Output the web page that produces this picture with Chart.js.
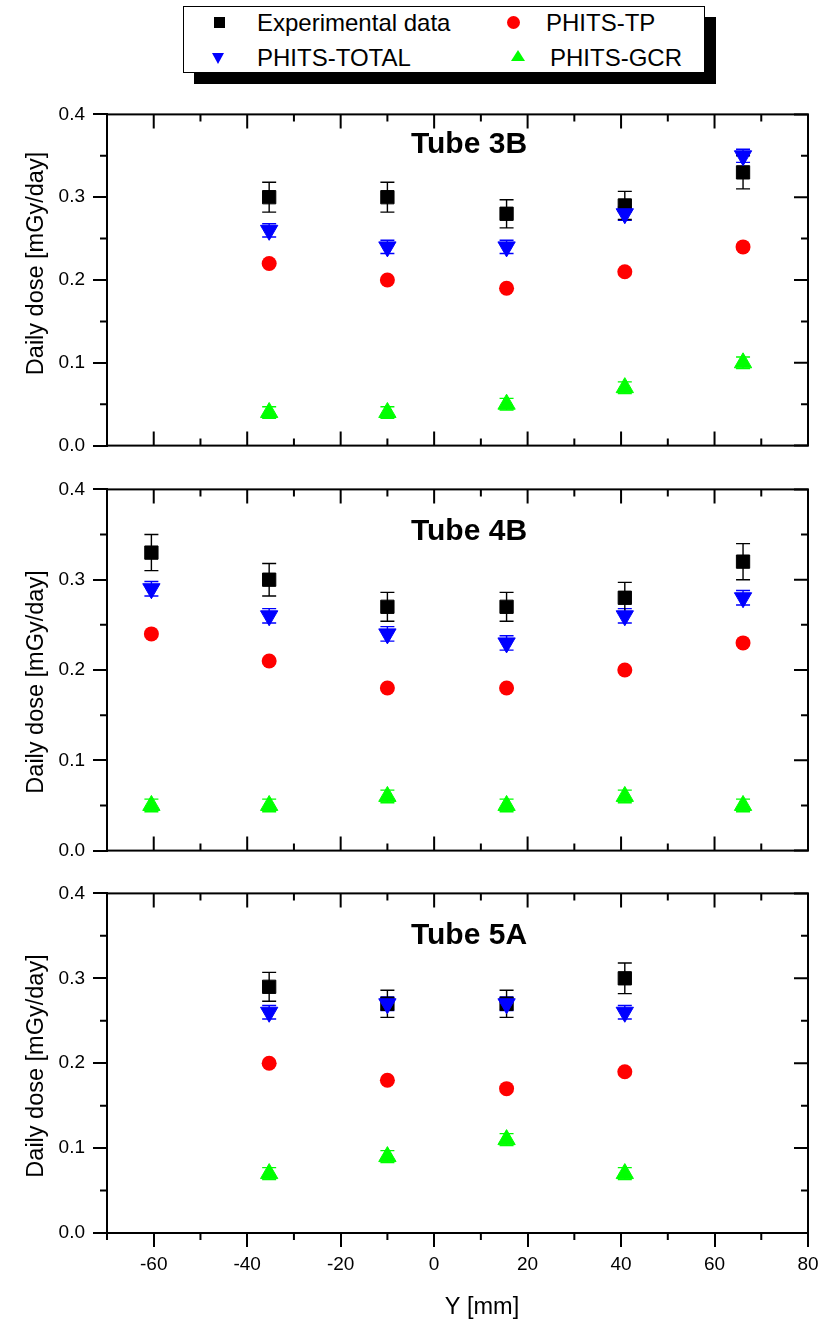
<!DOCTYPE html>
<html>
<head>
<meta charset="utf-8">
<title>Daily dose per tube</title>
<script src="https://cdn.jsdelivr.net/npm/chart.js@4.4.1/dist/chart.umd.min.js"></script>
<style>
  html, body { margin:0; padding:0; background:#fff; }
  body { width:832px; height:1322px; position:relative; overflow:hidden;
         font-family:"Liberation Sans", Arial, sans-serif; color:#000; }
  .panel { position:absolute; left:0; width:832px; }
  #legend { position:absolute; left:183px; top:6px; width:520px; height:65px;
            border:1px solid #000; background:#fff; box-shadow:11px 11px 0 #000; }
  .lt { position:absolute; font-size:24px; line-height:24px; white-space:nowrap; }
  .mk { position:absolute; }
</style>
</head>
<body>
<div id="legend"></div>
<div class="panel" style="top:95px;height:370px"><canvas id="c1"></canvas></div>
<div class="panel" style="top:470px;height:400px"><canvas id="c2"></canvas></div>
<div class="panel" style="top:874px;height:448px"><canvas id="c3"></canvas></div>
<script>
/* ---------- data (Y position in mm, dose in mGy/day) ---------- */
const X_3B = [-35.3, -10.0, 15.5, 40.8, 66.1];
const X_4B = [-60.5, -35.3, -10.0, 15.5, 40.8, 66.1];
const X_5A = [-35.3, -10.0, 15.5, 40.8];

const EXP_3B     = [0.30, 0.30, 0.28, 0.29, 0.33];
const EXP_ERR_3B = [0.018, 0.018, 0.017, 0.017, 0.020];
const TOT_3B     = [0.26, 0.24, 0.24, 0.28, 0.35];
const TOT_ERR_3B = [0.008, 0.008, 0.008, 0.008, 0.008];
const TP_3B      = [0.22, 0.20, 0.19, 0.21, 0.24];
const GCR_3B     = [0.04, 0.04, 0.05, 0.07, 0.10];
const GCR_ERR_3B = [0.007, 0.007, 0.007, 0.007, 0.007];

const EXP_4B     = [0.33, 0.30, 0.27, 0.27, 0.28, 0.32];
const EXP_ERR_4B = [0.020, 0.018, 0.016, 0.016, 0.017, 0.020];
const TOT_4B     = [0.29, 0.26, 0.24, 0.23, 0.26, 0.28];
const TOT_ERR_4B = [0.008, 0.008, 0.008, 0.008, 0.008, 0.008];
const TP_4B      = [0.24, 0.21, 0.18, 0.18, 0.20, 0.23];
const GCR_4B     = [0.05, 0.05, 0.06, 0.05, 0.06, 0.05];
const GCR_ERR_4B = [0.007, 0.007, 0.007, 0.007, 0.007, 0.007];

const EXP_5A     = [0.29, 0.27, 0.27, 0.30];
const EXP_ERR_5A = [0.017, 0.016, 0.016, 0.018];
const TOT_5A     = [0.26, 0.27, 0.27, 0.26];
const TOT_ERR_5A = [0.008, 0.008, 0.008, 0.008];
const TP_5A      = [0.20, 0.18, 0.17, 0.19];
const GCR_5A     = [0.07, 0.09, 0.11, 0.07];
const GCR_ERR_5A = [0.007, 0.007, 0.007, 0.007];

const SERIES = ["Experimental data", "PHITS-TP", "PHITS-TOTAL", "PHITS-GCR"];
const X_RANGE = [-70, 80];
const X_TICKS = [-60, -40, -20, 0, 20, 40, 60, 80];
const Y_RANGE = [0, 0.4];
const Y_TICKS = [0.0, 0.1, 0.2, 0.3, 0.4];

const FONT = '"Liberation Sans", Arial, sans-serif';
const COL = { exp:"#000000", tp:"#ff0000", tot:"#0000ff", gcr:"#00ff00" };

/* ---------- legend (html) ---------- */
const leg = document.getElementById("legend");
leg.innerHTML =
  `<div class="mk" style="left:30px;top:10px;width:11px;height:11px;background:${COL.exp}"></div>` +
  `<div class="lt" style="left:73px;top:4px">${SERIES[0]}</div>` +
  `<div class="mk" style="left:323px;top:9px;width:13px;height:13px;border-radius:50%;background:${COL.tp}"></div>` +
  `<div class="lt" style="left:362px;top:4px">${SERIES[1]}</div>` +
  `<div class="mk" style="left:28px;top:46px;width:0;height:0;border-left:6px solid transparent;border-right:6px solid transparent;border-top:11px solid ${COL.tot}"></div>` +
  `<div class="lt" style="left:73px;top:39px">${SERIES[2]}</div>` +
  `<div class="mk" style="left:327px;top:43px;width:0;height:0;border-left:7px solid transparent;border-right:7px solid transparent;border-bottom:11px solid ${COL.gcr}"></div>` +
  `<div class="lt" style="left:366px;top:39px">${SERIES[3]}</div>`;

/* ---------- frame / ticks / error bars / titles ---------- */
const frame = {
  id: "frame",
  beforeDatasetsDraw(chart){
    const { ctx } = chart, xs = chart.scales.x, ys = chart.scales.y;
    ctx.save();
    chart.data.datasets.forEach(ds => {
      if (!ds.err) return;
      ctx.strokeStyle = ds.errColor; ctx.lineWidth = 1.4;
      ds.data.forEach((p, i) => {
        const e = ds.err[i];
        const px = xs.getPixelForValue(p.x);
        const yt = ys.getPixelForValue(p.y + e), yb = ys.getPixelForValue(p.y - e);
        ctx.beginPath();
        ctx.moveTo(px, yt); ctx.lineTo(px, yb);
        ctx.moveTo(px - 7, yt); ctx.lineTo(px + 7, yt);
        ctx.moveTo(px - 7, yb); ctx.lineTo(px + 7, yb);
        ctx.stroke();
      });
    });
    ctx.restore();
  },
  afterDraw(chart, args, o){
    const { ctx, chartArea:a } = chart, xs = chart.scales.x, ys = chart.scales.y;
    ctx.save();
    ctx.strokeStyle = "#000"; ctx.lineWidth = 2;
    ctx.strokeRect(a.left, a.top, a.right - a.left, a.bottom - a.top);
    ctx.beginPath();
    // x ticks every 10 (major every 20)
    for (let k = -7; k <= 8; k++){
      const px = xs.getPixelForValue(k * 10);
      const len = (k % 2 === 0) ? 14 : 7;
      ctx.moveTo(px, a.top); ctx.lineTo(px, a.top + len);
      if (o.bottomOut){ if (k % 2 !== 0){ ctx.moveTo(px, a.bottom); ctx.lineTo(px, a.bottom + 7); } }
      else { ctx.moveTo(px, a.bottom); ctx.lineTo(px, a.bottom - len); }
    }
    // y ticks every 0.05 (major every 0.1)
    for (let k = 0; k <= 8; k++){
      const py = ys.getPixelForValue(k * 0.05);
      const len = (k % 2 === 0) ? 14 : 7;
      ctx.moveTo(a.right, py); ctx.lineTo(a.right - len, py);
      if (k % 2 !== 0){ ctx.moveTo(a.left, py); ctx.lineTo(a.left - 7, py); }
    }
    ctx.stroke();

    ctx.fillStyle = "#000";
    // panel title
    ctx.font = `bold 30px ${FONT}`;
    ctx.textAlign = "center"; ctx.textBaseline = "alphabetic";
    ctx.fillText(o.title, 469, a.top + o.titleDy);
    // y axis title
    ctx.font = `23.5px ${FONT}`;
    ctx.save();
    ctx.translate(43, o.yTitleCy);
    ctx.rotate(-Math.PI / 2);
    ctx.fillText("Daily dose [mGy/day]", 0, 0);
    ctx.restore();
    // x axis title (bottom panel only)
    if (o.xTitle){
      ctx.textBaseline = "middle";
      ctx.fillText(o.xTitle, 482, a.bottom + 75);
    }
    ctx.restore();
  }
};

const pts = (xs, ys) => xs.map((x, i) => ({ x, y: ys[i] }));

function panel(id, title, X, exp, expErr, tot, totErr, tp, gcr, gcrErr, pad, titleDy, yTitleCy, showX){
  const gridOpts = { display:true, drawOnChartArea:false, drawTicks:true, tickLength:14, color:"#000", lineWidth:2 };
  return new Chart(document.getElementById(id), {
    type: "scatter",
    data: { datasets: [
      { label:SERIES[2], data:pts(X, tot), err:totErr, errColor:COL.tot, order:0,
        pointStyle:"triangle", pointRotation:180, pointRadius:10, pointBackgroundColor:COL.tot, pointBorderColor:COL.tot, pointBorderWidth:1 },
      { label:SERIES[0], data:pts(X, exp), err:expErr, errColor:COL.exp, order:1,
        pointStyle:"rect", pointRadius:9.4, pointBackgroundColor:COL.exp, pointBorderColor:COL.exp, pointBorderWidth:1 },
      { label:SERIES[1], data:pts(X, tp), order:2,
        pointStyle:"circle", pointRadius:7.5, pointBackgroundColor:COL.tp, pointBorderColor:COL.tp, pointBorderWidth:0 },
      { label:SERIES[3], data:pts(X, gcr), err:gcrErr, errColor:COL.gcr, order:3,
        pointStyle:"triangle", pointRadius:10, pointBackgroundColor:COL.gcr, pointBorderColor:COL.gcr, pointBorderWidth:1 },
    ]},
    options: {
      responsive:true, maintainAspectRatio:false, animation:false,
      layout:{ padding:pad },
      plugins:{
        legend:{ display:false }, tooltip:{ enabled:false },
        frame:{ title, titleDy, yTitleCy, bottomOut:showX, xTitle: showX ? "Y [mm]" : null }
      },
      scales:{
        x:{ type:"linear", min:X_RANGE[0], max:X_RANGE[1], display:showX,
            grid:gridOpts, border:{ display:true, color:"#000", width:2 },
            ticks:{ color:"#000", padding:6, autoSkip:false, maxRotation:0, font:{ family:FONT, size:19 } },
            afterBuildTicks: s => { s.ticks = X_TICKS.map(v => ({ value:v })); },
            afterFit: s => { if (showX) s.height = 89; } },
        y:{ type:"linear", min:Y_RANGE[0], max:Y_RANGE[1],
            grid:gridOpts, border:{ display:true, color:"#000", width:2 },
            ticks:{ color:"#000", padding:8, font:{ family:FONT, size:19 },
                    callback: v => Number(v).toFixed(1) },
            afterBuildTicks: s => { s.ticks = Y_TICKS.map(v => ({ value:v })); },
            afterFit: s => { s.width = 107; } }
      }
    },
    plugins:[frame]
  });
}

panel("c1", "Tube 3B", X_3B, EXP_3B, EXP_ERR_3B, TOT_3B, TOT_ERR_3B, TP_3B, GCR_3B, GCR_ERR_3B,
      { top:19, right:24, bottom:19, left:0 }, 39, 168.5, false);
panel("c2", "Tube 4B", X_4B, EXP_4B, EXP_ERR_4B, TOT_4B, TOT_ERR_4B, TP_4B, GCR_4B, GCR_ERR_4B,
      { top:18, right:24, bottom:18, left:0 }, 51, 212, false);
panel("c3", "Tube 5A", X_5A, EXP_5A, EXP_ERR_5A, TOT_5A, TOT_ERR_5A, TP_5A, GCR_5A, GCR_ERR_5A,
      { top:18, right:24, bottom:0, left:0 }, 51, 192, true);
</script>
</body>
</html>
